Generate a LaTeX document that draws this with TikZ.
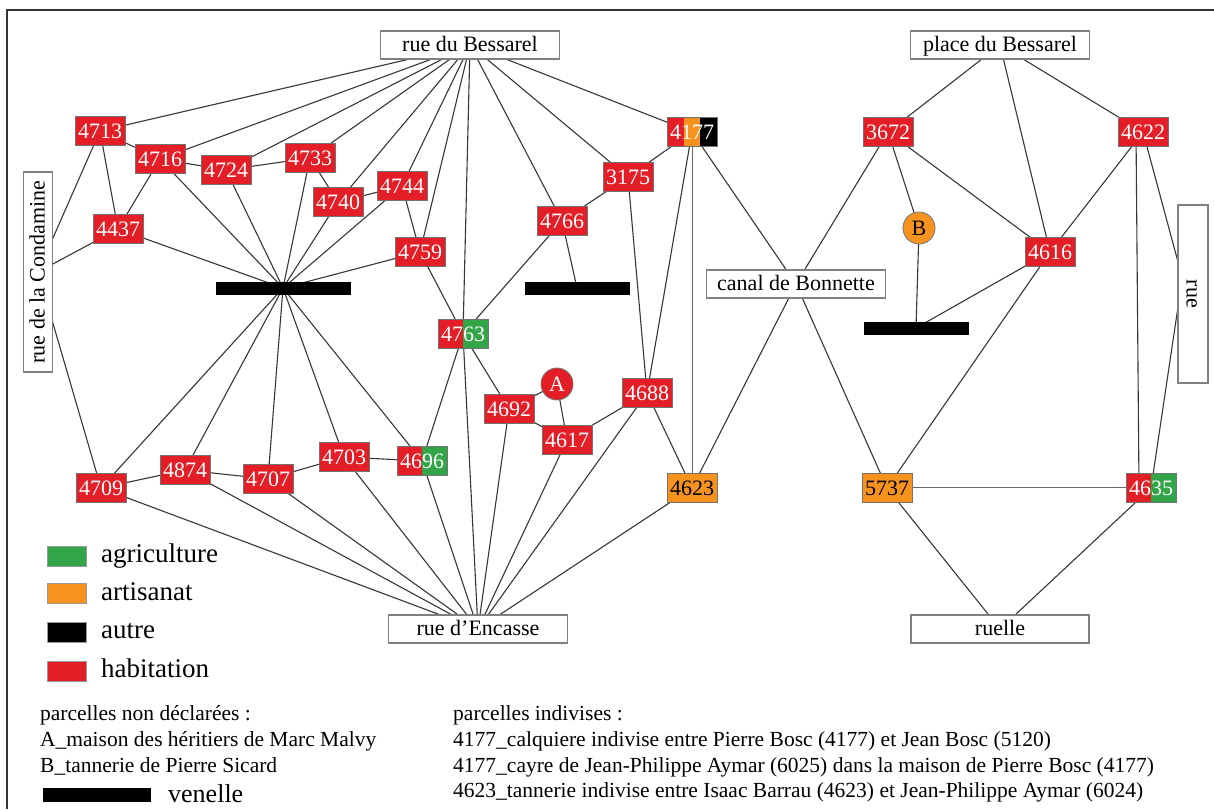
\documentclass[tikz,border=0pt]{standalone}
\usepackage{fontspec}
\setmainfont{Liberation Serif}
\usetikzlibrary{backgrounds}
\definecolor{hred}{RGB}{228,30,38}
\definecolor{hgreen}{RGB}{50,165,72}
\definecolor{horange}{RGB}{246,146,30}
\definecolor{edgec}{RGB}{55,55,55}
\tikzset{
  parcel/.style={draw=black!55, line width=0.8pt, minimum width=50pt, minimum height=29pt,
    inner sep=0pt, font=\fontsize{22}{24}\selectfont, text=white, fill=hred},
  artisan/.style={parcel, fill=horange, text=black},
  mixrg/.style={parcel, fill=none, path picture={
    \fill[hred] (path picture bounding box.south west) rectangle (path picture bounding box.north);
    \fill[hgreen] (path picture bounding box.south) rectangle (path picture bounding box.north east);}},
  mixroa/.style={parcel, fill=none, path picture={
    \fill[hred] (path picture bounding box.south west) rectangle ([xshift=-8.33pt]path picture bounding box.north);
    \fill[horange] ([xshift=-8.33pt]path picture bounding box.south) rectangle ([xshift=8.33pt]path picture bounding box.north);
    \fill[black] ([xshift=8.33pt]path picture bounding box.south) rectangle (path picture bounding box.north east);}},
  street/.style={draw=black!50, line width=1.2pt, fill=white, minimum width=179pt, minimum height=28pt,
    inner sep=0pt, font=\fontsize{22}{26}\selectfont, text height=15pt, text depth=2pt},
  unlisted/.style={circle, draw=black!55, line width=0.8pt, minimum size=32pt, inner sep=0pt,
    font=\fontsize{22}{24}\selectfont},
  venbar/.style={fill=black, minimum height=13pt, inner sep=0pt},
  conn/.style={draw=edgec, line width=1.1pt},
  straightconn/.style={draw=black!60, line width=0.9pt},
  legsq/.style={draw=black!40, line width=0.6pt, minimum width=39pt, minimum height=20pt, inner sep=0pt},
  legtxt/.style={anchor=base west, inner sep=0pt, font=\fontsize{27}{30}\selectfont},
  notetxt/.style={anchor=base west, inner sep=0pt, font=\fontsize{21.5}{24}\selectfont},
}
\begin{document}
\begin{tikzpicture}[x=1pt,y=-1pt]
\useasboundingbox (0,0) rectangle (1214,809);
% streets
\node[street] (RB) at (470,45) {rue du Bessarel};
\node[street] (PB) at (1000,45) {place du Bessarel};
\node[street] (CB) at (796,284) {canal de Bonnette};
\node[street] (RE) at (478,629) {rue d'Encasse};
\node[street, minimum width=178pt] (RU) at (1000,629) {ruelle};
\node[street, rotate=90, minimum width=200pt, minimum height=29pt] (RC) at (38,272) {rue de la Condamine};
\node[street, rotate=-90, minimum width=178pt, minimum height=30pt] (RR) at (1193,294) {rue};
% venelles
\node[venbar, minimum width=135pt] (v1) at (283,288) {};
\node[venbar, minimum width=105pt] (v2) at (577,288) {};
\node[venbar, minimum width=105pt] (v3) at (916,328) {};
% parcels
\node[parcel] (n4713) at (100,131) {4713};
\node[parcel] (n4716) at (160,159) {4716};
\node[parcel] (n4724) at (226,170) {4724};
\node[parcel] (n4733) at (310,158) {4733};
\node[parcel] (n4740) at (338,202) {4740};
\node[parcel] (n4744) at (402,186) {4744};
\node[parcel] (n4437) at (118,229) {4437};
\node[parcel] (n4759) at (420,252) {4759};
\node[parcel] (n4766) at (562,221) {4766};
\node[parcel] (n3175) at (628,177) {3175};
\node[mixroa] (n4177) at (692,132) {4177};
\node[mixrg] (n4763) at (463,334) {4763};
\node[parcel] (n4692) at (509,409) {4692};
\node[unlisted, fill=hred, text=white] (A) at (557,384) {A};
\node[parcel] (n4617) at (567,440) {4617};
\node[parcel] (n4688) at (647,393) {4688};
\node[artisan] (n4623) at (692,488) {4623};
\node[mixrg] (n4696) at (422,461) {4696};
\node[parcel] (n4709) at (101,488) {4709};
\node[parcel] (n4874) at (185,470) {4874};
\node[parcel] (n4707) at (268,479) {4707};
\node[parcel] (n4703) at (344,457) {4703};
\node[parcel] (n3672) at (888,132) {3672};
\node[parcel] (n4622) at (1143,132) {4622};
\node[unlisted, fill=horange, text=black] (B) at (919,228) {B};
\node[parcel] (n4616) at (1050,252) {4616};
\node[artisan] (n5737) at (887,488) {5737};
\node[mixrg] (n4635) at (1151,488) {4635};
% connectors
\begin{scope}[on background layer]
\fill[white] (0,0) rectangle (1214,809);
\foreach \a/\b in {RB/n4713,RB/n4716,RB/n4724,RB/n4733,RB/n4740,RB/n4744,RB/n4759,RB/n4763,RB/n4766,RB/n3175,RB/n4177,
  RC/n4713,RC/n4437,RC/n4709,
  n4713/n4716,n4713/n4437,n4716/n4437,n4716/n4724,n4716/v1,n4724/n4733,n4724/v1,n4733/n4740,n4733/v1,
  n4740/n4744,n4740/v1,n4744/n4759,n4744/v1,n4759/v1,n4759/n4763,n4437/v1,
  v1/n4709,v1/n4874,v1/n4707,v1/n4703,v1/n4696,
  n4763/n4766,n4763/n4692,n4763/n4696,n4763/RE,
  n4766/n3175,n4766/v2,n3175/n4177,n3175/n4688,
  n4177/n4688,n4177/CB,
  CB/n3672,CB/n4623,CB/n5737,
  n4623/n4688,n4623/RE,n4688/n4617,n4688/RE,
  n4692/A,n4692/n4617,n4692/RE,A/n4617,n4617/RE,
  n4696/n4703,n4696/RE,n4703/n4707,n4703/RE,n4707/n4874,n4707/RE,n4874/n4709,n4874/RE,n4709/RE,
  PB/n3672,PB/n4616,PB/n4622,
  n3672/B,n3672/n4616,n4622/n4616,B/v3,n4616/v3,n4616/n5737,
  n5737/RU,n4635/RU}
  \draw[conn] (\a.center) -- (\b.center);
\draw[straightconn] ([xshift=0.5pt]n4177.center) -- ([xshift=0.5pt]n4623.center);
\draw[straightconn] ([yshift=0.5pt]n5737.center) -- ([yshift=0.5pt]n4635.center);
\draw[conn] ([xshift=-7pt]n4622.center) -- ([xshift=-12pt]n4635.center);
\draw[conn] (n4622.center) -- ([xshift=-15pt,yshift=32pt]RR.center);
\draw[conn] ([xshift=-15pt,yshift=-13pt]RR.center) -- (n4635.center);
\end{scope}
% frame
\draw[line width=1.5pt, black!80] (7,809) -- (7,10) -- (1214,10);
% legend
\node[legsq, fill=hgreen] (lg1) at (66.5,556) {};
\node[legsq, fill=horange] (lg2) at (66.5,593) {};
\node[legsq, fill=black] (lg3) at (66.5,632) {};
\node[legsq, fill=hred] (lg4) at (66.5,671) {};
\node[legtxt] (lt1) at (101,562) {agriculture};
\node[legtxt] (lt2) at (101,600) {artisanat};
\node[legtxt] (lt3) at (101,638) {autre};
\node[legtxt] (lt4) at (101,677) {habitation};
\node[venbar, minimum width=108pt, minimum height=14pt] (lv) at (97,795) {};
\node[legtxt, font=\fontsize{26}{28}\selectfont] (lvt) at (168,802) {venelle};
% notes
\node[notetxt] (na) at (40,720) {parcelles non déclarées :};
\node[notetxt] (nb) at (40,746) {A\_maison des héritiers de Marc Malvy};
\node[notetxt] (nc) at (40,772) {B\_tannerie de Pierre Sicard};
\node[notetxt] (nd) at (453,720) {parcelles indivises :};
\node[notetxt] (ne) at (453,746) {4177\_calquiere indivise entre Pierre Bosc (4177) et Jean Bosc (5120)};
\node[notetxt] (nf) at (453,772) {4177\_cayre de Jean-Philippe Aymar (6025) dans la maison de Pierre Bosc (4177)};
\node[notetxt] (ng) at (453,797) {4623\_tannerie indivise entre Isaac Barrau (4623) et Jean-Philippe Aymar (6024)};
\end{tikzpicture}
\end{document}
